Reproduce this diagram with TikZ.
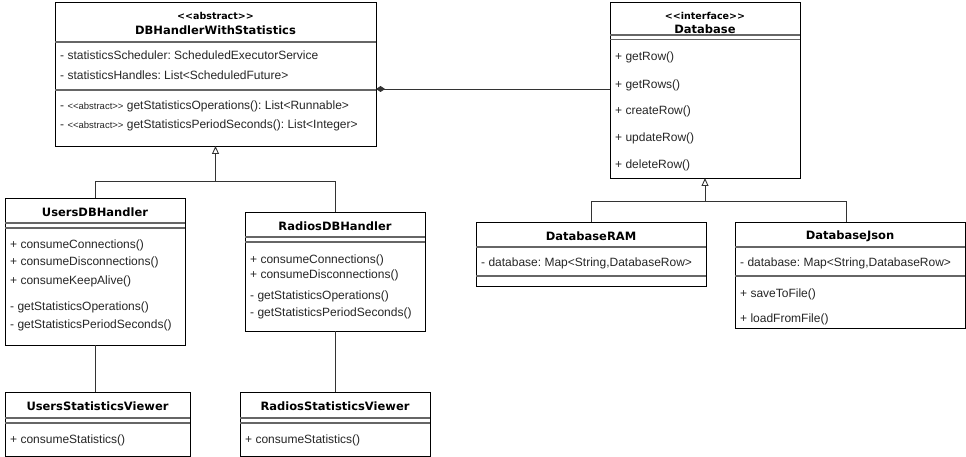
\documentclass[tikz,border=0pt]{standalone}
\usepackage{fontspec}
\setmainfont{Liberation Sans}
\newfontfamily\titlefont{DejaVu Sans}
\usetikzlibrary{arrows.meta,calc}
\frenchspacing
\begin{document}
\begin{tikzpicture}[x=1pt,y=-1pt,
  cls/.style={draw=black, line width=0.9pt, inner sep=0pt, outer sep=0pt, anchor=north west, fill=white},
  div/.style={draw=black!60, line width=1.3pt},
  txt/.style={anchor=west, inner sep=0pt, font=\fontsize{12}{14}\selectfont, text=black!85},
  ttl/.style={anchor=center, inner sep=0pt, font=\titlefont\bfseries\fontsize{11.5}{13}\selectfont},
  ster/.style={anchor=center, inner sep=0pt, font=\titlefont\bfseries\fontsize{9.5}{11}\selectfont},
  conn/.style={draw=black!80, line width=0.9pt},
  gen/.style={conn, -{Triangle[open, length=8pt, width=7pt]}},
  comp/.style={conn, {Diamond[length=9pt, width=6pt]}-}
]
\newcommand{\sst}{{\fontsize{9.5}{11}\selectfont<{}<abstract>{}>}}
\useasboundingbox (0,0) rectangle (966,457);

% DBHandlerWithStatistics
\node[cls, minimum width=321pt, minimum height=144pt] (dbh) at (55,2) {};
\node[ster] (dbhs) at (215.5,16) {<{}<abstract>{}>};
\node[ttl] (dbht) at (215.5,30) {DBHandlerWithStatistics};
\draw[div] (55,42) -- (376,42);
\node[txt] (dbha1) at (60,55) {- statisticsScheduler: ScheduledExecutorService};
\node[txt] (dbha2) at (60,75) {- statisticsHandles: List<ScheduledFuture>};
\draw[div] (55,90) -- (376,90);
\node[txt] (dbhm1) at (60,106) {- \sst{} getStatisticsOperations(): List<Runnable>};
\node[txt] (dbhm2) at (60,125) {- \sst{} getStatisticsPeriodSeconds(): List<Integer>};

% Database
\node[cls, minimum width=190pt, minimum height=176pt] (db) at (610,2) {};
\node[ster] (dbs) at (705,16) {<{}<interface>{}>};
\node[ttl] (dbt) at (705,29) {Database};
\draw[div] (610,35) -- (800,35);
\draw[div] (610,39.5) -- (800,39.5);
\node[txt] (dbm1) at (615,57) {+ getRow()};
\node[txt] (dbm2) at (615,85) {+ getRows()};
\node[txt] (dbm3) at (615,111) {+ createRow()};
\node[txt] (dbm4) at (615,138) {+ updateRow()};
\node[txt] (dbm5) at (615,165) {+ deleteRow()};

% UsersDBHandler
\node[cls, minimum width=180pt, minimum height=147pt] (udb) at (5,198) {};
\node[ttl] (udbt) at (95,212) {UsersDBHandler};
\draw[div] (5,223) -- (185,223);
\draw[div] (5,228) -- (185,228);
\node[txt] (udbm1) at (10,245) {+ consumeConnections()};
\node[txt] (udbm2) at (10,262) {+ consumeDisconnections()};
\node[txt] (udbm3) at (10,281) {+ consumeKeepAlive()};
\node[txt] (udbm4) at (10,307) {- getStatisticsOperations()};
\node[txt] (udbm5) at (10,325) {- getStatisticsPeriodSeconds()};

% RadiosDBHandler
\node[cls, minimum width=180pt, minimum height=119pt] (rdb) at (245,212) {};
\node[ttl] (rdbt) at (335,226) {RadiosDBHandler};
\draw[div] (245,237) -- (425,237);
\draw[div] (245,242) -- (425,242);
\node[txt] (rdbm1) at (250,260) {+ consumeConnections()};
\node[txt] (rdbm2) at (250,275) {+ consumeDisconnections()};
\node[txt] (rdbm3) at (250,296) {- getStatisticsOperations()};
\node[txt] (rdbm4) at (250,313) {- getStatisticsPeriodSeconds()};

% UsersStatisticsViewer
\node[cls, minimum width=185pt, minimum height=64pt] (usv) at (5,392) {};
\node[ttl] (usvt) at (97.5,406) {UsersStatisticsViewer};
\draw[div] (5,418) -- (190,418);
\draw[div] (5,423) -- (190,423);
\node[txt] (usvm1) at (10,440) {+ consumeStatistics()};

% RadiosStatisticsViewer
\node[cls, minimum width=190pt, minimum height=64pt] (rsv) at (240,392) {};
\node[ttl] (rsvt) at (335,406) {RadiosStatisticsViewer};
\draw[div] (240,418) -- (430,418);
\draw[div] (240,423) -- (430,423);
\node[txt] (rsvm1) at (245,440) {+ consumeStatistics()};

% DatabaseRAM
\node[cls, minimum width=230pt, minimum height=64pt] (ram) at (476,222) {};
\node[ttl] (ramt) at (591,236) {DatabaseRAM};
\draw[div] (476,247) -- (706,247);
\node[txt] (rama1) at (481,263) {- database: Map<String,DatabaseRow>};
\draw[div] (476,276) -- (706,276);

% DatabaseJson
\node[cls, minimum width=230pt, minimum height=106pt] (json) at (735,222) {};
\node[ttl] (jsont) at (850,236) {DatabaseJson};
\draw[div] (735,247) -- (965,247);
\node[txt] (jsona1) at (740,263) {- database: Map<String,DatabaseRow>};
\draw[div] (735,276) -- (965,276);
\node[txt] (jsonm1) at (740,294) {+ saveToFile()};
\node[txt] (jsonm2) at (740,319) {+ loadFromFile()};

% Connectors
\coordinate (j1) at (215.5,181);
\coordinate (j2) at (705,201);
\draw[gen] (udb.north) |- (j1) -- (dbh.south);
\draw[conn] (rdb.north) |- (j1);
\draw[gen] (ram.north) |- (j2) -- (db.south);
\draw[conn] ([xshift=-4pt]json.north) |- (j2);
\draw[conn] (udb.south) -- (usv.north -| udb.south);
\draw[conn] (rdb.south) -- (rsv.north -| rdb.south);
\draw[comp] ([yshift=-87pt]dbh.north east) -- ([yshift=-87pt]db.north west);
\end{tikzpicture}
\end{document}
